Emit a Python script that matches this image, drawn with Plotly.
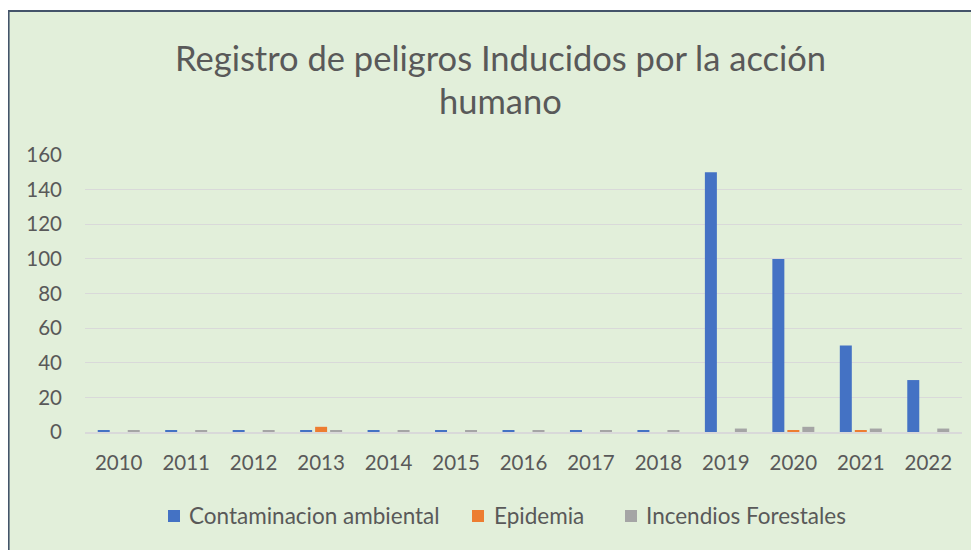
import plotly.graph_objects as go

years = ["2010", "2011", "2012", "2013", "2014", "2015", "2016", "2017", "2018", "2019", "2020", "2021", "2022"]
contaminacion = [1, 1, 1, 1, 1, 1, 1, 1, 1, 150, 100, 50, 30]
epidemia = [0, 0, 0, 3, 0, 0, 0, 0, 0, 0, 1, 1, 0]
incendios = [1, 1, 1, 1, 1, 1, 1, 1, 1, 2, 3, 2, 2]
y_ticks = [0, 20, 40, 60, 80, 100, 120, 140, 160]

title_line1 = "Registro de peligros Inducidos por la acción"
title_line2 = "humano"
series_names = ["Contaminacion ambiental", "Epidemia", "Incendios Forestales"]
colors = ["#4472C4", "#ED7D31", "#A5A5A5"]

FONT = "Lato, 'Open Sans', sans-serif"
TXT = "#595959"

fig = go.Figure()
for name, vals, col in zip(series_names, [contaminacion, epidemia, incendios], colors):
    fig.add_trace(go.Bar(x=years, y=vals, name=name, showlegend=False,
                         marker=dict(color=col, line=dict(width=0))))

# page has an 8px body margin: figure coordinates = page coordinates - 8
OFF = 8
W, H = 979 - OFF, 550 - OFF
L, R, T, B = 85 - OFF, W - (962 - OFF), 155 - OFF, H - (432 - OFF)
pw, ph = W - L - R, H - T - B


def fx(page_x):
    return (page_x - OFF - L) / pw


def fy(page_y):
    return (H - B - (page_y - OFF)) / ph


shapes = [dict(
    type="rect", xref="paper", yref="paper", layer="below",
    x0=fx(8.5), x1=fx(1010),
    y0=fy(600), y1=fy(11),
    fillcolor="#E2EFDA",
    line=dict(color="#44546A", width=2.2),
)]

annotations = [
    dict(text=title_line1, xref="paper", yref="paper", x=fx(500), y=fy(57),
         xanchor="center", yanchor="middle", showarrow=False,
         font=dict(family=FONT, size=34.5, color=TXT)),
    dict(text=title_line2, xref="paper", yref="paper", x=fx(500), y=fy(100),
         xanchor="center", yanchor="middle", showarrow=False,
         font=dict(family=FONT, size=34.5, color=TXT)),
]

# legend drawn as squares + text
leg_square_x = [168, 472, 625]
leg_text_x = [187, 492, 644]
leg_y = 516
for sx, tx, name, col in zip(leg_square_x, leg_text_x, series_names, colors):
    shapes.append(dict(type="rect", xref="paper", yref="paper",
                       x0=fx(sx), x1=fx(sx + 12), y0=fy(leg_y + 6), y1=fy(leg_y - 6),
                       fillcolor=col, line=dict(width=0)))
    annotations.append(dict(text=name, xref="paper", yref="paper", x=fx(tx), y=fy(leg_y),
                            xanchor="left", yanchor="middle", showarrow=False,
                            font=dict(family=FONT, size=22.5, color=TXT)))

fig.update_layout(
    width=W, height=H,
    margin=dict(l=L, r=R, t=T, b=B, pad=0),
    paper_bgcolor="white",
    plot_bgcolor="rgba(0,0,0,0)",
    barmode="group",
    bargap=0.333,
    bargroupgap=0.2,
    font=dict(family=FONT, color=TXT, size=20),
    showlegend=False,
    xaxis=dict(
        type="category",
        showgrid=False,
        showline=True, linecolor="#D9D9D9", linewidth=1.5,
        ticks="", ticklabelstandoff=12,
        tickfont=dict(family=FONT, size=20.5, color=TXT),
    ),
    yaxis=dict(
        range=[0, 160],
        tickvals=y_ticks,
        showgrid=True, gridcolor="#D9D9D9", gridwidth=1.2,
        zeroline=False,
        showline=False,
        ticks="", ticklabelstandoff=22,
        tickfont=dict(family=FONT, size=20.5, color=TXT),
    ),
    shapes=shapes,
    annotations=annotations,
)

fig.write_html("out.html")
